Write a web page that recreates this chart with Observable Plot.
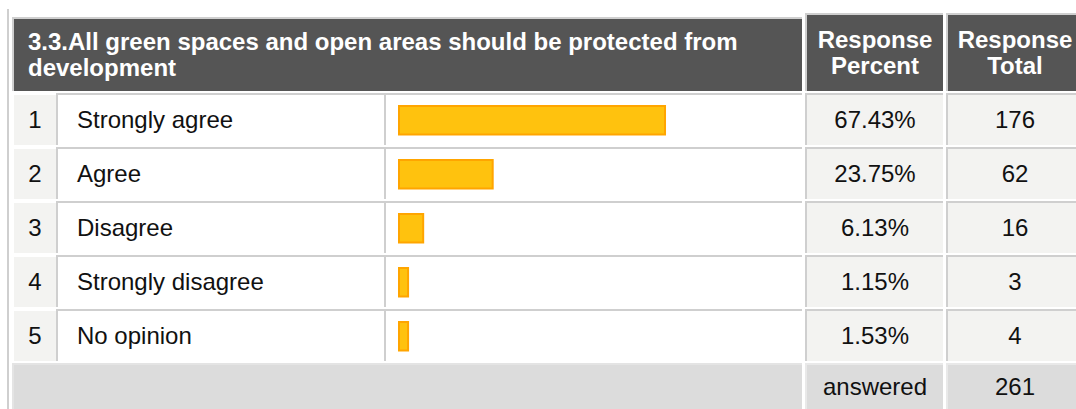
<!DOCTYPE html>
<html>
<head>
<meta charset="utf-8">
<script src="https://cdn.jsdelivr.net/npm/d3@7"></script>
<script src="https://cdn.jsdelivr.net/npm/@observablehq/plot@0.6"></script>
<style>
html, body { margin: 0; padding: 0; background: #fff; width: 1076px; height: 409px; overflow: hidden; }
#root { position: relative; width: 1076px; height: 409px; overflow: hidden;
  font-family: Arial, "Liberation Sans", Helvetica, sans-serif; color: #111; }
.box { position: absolute; box-sizing: border-box; display: flex; align-items: center; font-size: 24px; white-space: nowrap; }
.bt { border-top: 2px solid #cfcfcf; }
.bl { border-left: 2px solid #cfcfcf; }
.center { justify-content: center; text-align: center; }
.hdr { background: #555555; color: #fff; font-weight: bold; line-height: 26px; }
</style>
</head>
<body>
<div id="root"></div>
<script>
// ---- data ----
const question = "3.3.All green spaces and open areas should be protected from development";
const columnHeaders = ["Response Percent", "Response Total"];
const rank = [1, 2, 3, 4, 5];
const answers = ["Strongly agree", "Agree", "Disagree", "Strongly disagree", "No opinion"];
const percents = [67.43, 23.75, 6.13, 1.15, 1.53];
const totals = [176, 62, 16, 3, 4];
const answeredLabel = "answered";
const answeredCount = 261;

// ---- layout ----
const root = document.getElementById("root");
function box(cls, x, y, w, h, style, content) {
  const d = document.createElement("div");
  d.className = "box " + cls;
  Object.assign(d.style, {left: x + "px", top: y + "px", width: w + "px", height: h + "px"}, style || {});
  if (content instanceof Node) d.appendChild(content);
  else if (content != null) d.innerHTML = content;
  root.appendChild(d);
  return d;
}

// outer left rule
box("", 7, 9, 2, 400, {background: "#cfcfcf"});

// header
box("hdr bt bl", 12, 17, 790, 74, {paddingLeft: "14px", whiteSpace: "normal", paddingRight: "20px"}, question);
const [h1, h2] = columnHeaders.map(s => s.split(" ").join("<br>"));
box("hdr bt bl center", 805, 13, 138, 78, {}, h1);
box("hdr bt bl center", 946, 13, 136, 78, {}, h2);

// body rows
const rowTop = i => 93 + 54 * i;
answers.forEach((a, i) => {
  const y = rowTop(i);
  box("center", 14, y + 2, 42, 50, {background: "#f3f3f1"}, String(rank[i]));
  box("bt bl", 56, y, 328, 52, {paddingLeft: "19px", background: "#fff"}, a);
  box("bt bl", 384, y, 418, 52, {background: "#fff"});
  box("bt bl center", 805, y, 138, 52, {background: "#f3f3f1"}, percents[i].toFixed(2) + "%");
  box("bt bl center", 946, y, 136, 52, {background: "#f3f3f1"}, String(totals[i]));
});

// footer
const fy = rowTop(answers.length);
box("bt bl", 12, fy, 790, 409 - fy, {background: "#dcdcdc", borderColor: "#e4e4e4"});
box("bt bl center", 805, fy, 138, 409 - fy, {background: "#dcdcdc", borderColor: "#e9e9e9"}, answeredLabel);
box("bt bl center", 946, fy, 136, 409 - fy, {background: "#dcdcdc", borderColor: "#e9e9e9"}, String(answeredCount));

// bars via Observable Plot
const data = answers.map((a, i) => ({answer: a, pct: percents[i]}));
const chart = Plot.plot({
  width: 416,
  height: 270,
  margin: 0,
  style: {background: "transparent", overflow: "visible"},
  x: {domain: [0, 100], range: [13, 407.5], axis: null},
  y: {domain: answers, range: [0, 270], padding: 0, axis: null},
  marks: [
    Plot.barX(data, {
      y: "answer",
      x1: 0,
      x2: d => Math.max(d.pct, 2.3),
      fill: "#FFC20E",
      stroke: "#FFA500",
      strokeWidth: 2,
      insetTop: 13,
      insetBottom: 12.5
    })
  ]
});
const holder = document.createElement("div");
Object.assign(holder.style, {position: "absolute", left: "386px", top: "93px", width: "416px", height: "270px"});
holder.appendChild(chart);
root.appendChild(holder);
</script>
</body>
</html>
